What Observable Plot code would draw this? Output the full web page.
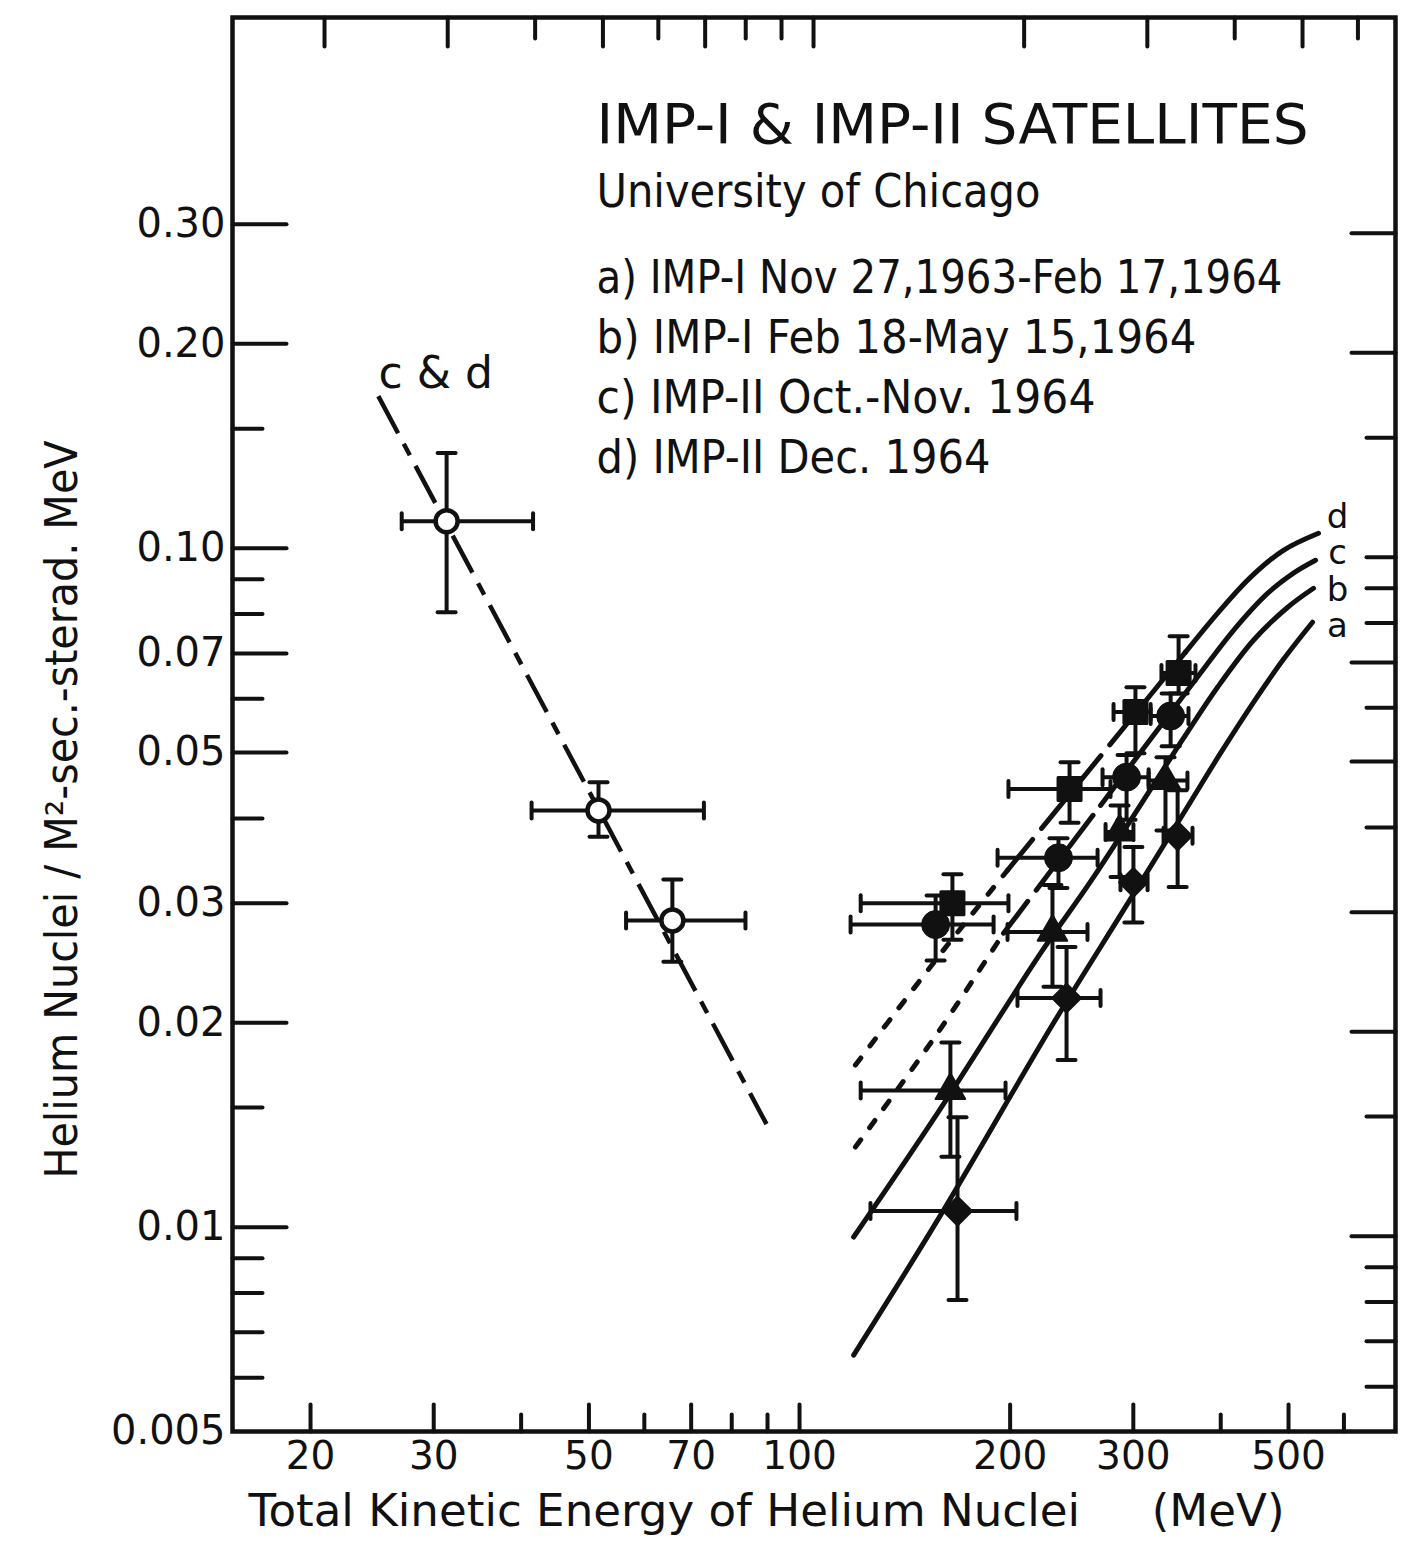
<!DOCTYPE html>
<html><head><meta charset="utf-8">
<script src="https://cdn.jsdelivr.net/npm/d3@7"></script>
<script src="https://cdn.jsdelivr.net/npm/@observablehq/plot@0.6"></script>
<style>
html,body{margin:0;padding:0;background:#fff;}
#chart svg{display:block;}
</style></head><body><div id="chart"></div>
<script>
// ---------- data ----------
const xDomain = [15.47, 711];
const yDomain = [0.005, 0.605];
const xMajorTicks = [20, 30, 50, 70, 100, 200, 300, 500];
const xMinorTicks = [40, 60, 80, 90, 400, 600];
const xTickLabels = ["20", "30", "50", "70", "100", "200", "300", "500"];
const yLabelTicks = [0.005, 0.01, 0.02, 0.03, 0.05, 0.07, 0.1, 0.2, 0.3];
const yTickLabels = ["0.005", "0.01", "0.02", "0.03", "0.05", "0.07", "0.10", "0.20", "0.30"];
const yLongTicksLeft = [0.01, 0.02, 0.03, 0.05, 0.07, 0.1, 0.2, 0.3];
const yShortTicksLeft = [0.006, 0.007, 0.008, 0.009, 0.015, 0.04, 0.06, 0.08, 0.09, 0.15];
const yLongTicksRight = [0.01, 0.02, 0.03, 0.05, 0.07, 0.2, 0.3];
const yShortTicksRight = [0.006, 0.007, 0.008, 0.009, 0.015, 0.04, 0.06, 0.08, 0.09, 0.1, 0.15];

const titleText = "IMP-I & IMP-II SATELLITES";
const subtitleText = "University of Chicago";
const legendLines = [
  "a) IMP-I Nov 27,1963-Feb 17,1964",
  "b) IMP-I Feb 18-May 15,1964",
  "c) IMP-II Oct.-Nov. 1964",
  "d) IMP-II Dec. 1964"
];
const xTitle = "Total Kinetic Energy of Helium Nuclei\u00a0\u00a0\u00a0\u00a0\u00a0(MeV)";
const yTitle = "Helium Nuclei / M\u00b2-sec.-sterad. MeV";
const curveLabels = ["d", "c", "b", "a"];
const lowLabel = "c & d";

// low-energy points (c & d), open circles
const lowCD = [
  {e: 31.3, f: 0.1096, eLo: 27.0, eHi: 41.6, fLo: 0.0805, fHi: 0.1381},
  {e: 51.6, f: 0.0411, eLo: 41.4, eHi: 73.0, fLo: 0.0376, fHi: 0.0452},
  {e: 65.8, f: 0.0283, eLo: 56.5, eHi: 83.7, fLo: 0.0246, fHi: 0.0325}
];
const lowCDFit = [{e: 25.0, f: 0.1675}, {e: 89.7, f: 0.01418}];

// high-energy points
const pointsD = [ // squares
  {e: 165.4, f: 0.0300, eLo: 122.3, eHi: 198.9, fLo: 0.0265, fHi: 0.0331},
  {e: 243.2, f: 0.0442, eLo: 198.9, eHi: 278.3, fLo: 0.0394, fHi: 0.0484},
  {e: 302.1, f: 0.0574, eLo: 281.1, eHi: 317.6, fLo: 0.0499, fHi: 0.0624},
  {e: 348.2, f: 0.0655, eLo: 329.1, eHi: 368.1, fLo: 0.0611, fHi: 0.0742}
];
const pointsC = [ // filled circles
  {e: 156.5, f: 0.0279, eLo: 118.3, eHi: 189.4, fLo: 0.0247, fHi: 0.0308},
  {e: 234.5, f: 0.0350, eLo: 191.9, eHi: 266.7, fLo: 0.0316, fHi: 0.0374},
  {e: 293.4, f: 0.0460, eLo: 271.1, eHi: 315.5, fLo: 0.0398, fHi: 0.0496},
  {e: 339.2, f: 0.0566, eLo: 317.6, eHi: 359.7, fLo: 0.0511, fHi: 0.0611}
];
const pointsB = [ // triangles
  {e: 164.3, f: 0.0159, eLo: 122.3, eHi: 197.0, fLo: 0.0127, fHi: 0.0187},
  {e: 229.9, f: 0.0272, eLo: 198.3, eHi: 258.0, fLo: 0.0226, fHi: 0.0319},
  {e: 286.7, f: 0.0382, eLo: 273.8, eHi: 300.1, fLo: 0.0328, fHi: 0.0418},
  {e: 333.5, f: 0.0455, eLo: 315.5, eHi: 358.5, fLo: 0.0384, fHi: 0.0492}
];
const pointsA = [ // diamonds
  {e: 168.2, f: 0.01056, eLo: 126.3, eHi: 204.2, fLo: 0.00781, fHi: 0.01452},
  {e: 240.8, f: 0.02175, eLo: 204.9, eHi: 269.3, fLo: 0.01762, fHi: 0.02585},
  {e: 300.1, f: 0.0322, eLo: 287.6, eHi: 314.4, fLo: 0.0281, fHi: 0.0363},
  {e: 347.1, f: 0.0377, eLo: 331.4, eHi: 364.5, fLo: 0.0317, fHi: 0.0440}
];

// fitted spectra curves
const curveA = [
  {e: 119.5, f: 0.00648}, {e: 157.5, f: 0.01024}, {e: 230.7, f: 0.01998}, {e: 290.5, f: 0.0293},
  {e: 353.9, f: 0.0407}, {e: 399.7, f: 0.0499}, {e: 445.5, f: 0.0593}, {e: 491.7, f: 0.0686}, {e: 541.1, f: 0.0778}
];
const curveB = [
  {e: 119.5, f: 0.00967}, {e: 157.5, f: 0.01472}, {e: 221.1, f: 0.02532}, {e: 263.2, f: 0.03277},
  {e: 353.9, f: 0.0525}, {e: 395.8, f: 0.0624}, {e: 445.5, f: 0.0732}, {e: 498.2, f: 0.0818}, {e: 542.9, f: 0.0873}
];
const curveC = [
  {e: 120.2, f: 0.01312}, {e: 157.5, f: 0.01931}, {e: 195.7, f: 0.0271}, {e: 269.3, f: 0.0418},
  {e: 370.6, f: 0.0646}, {e: 417.2, f: 0.0757}, {e: 466.6, f: 0.0858}, {e: 508.2, f: 0.0919}, {e: 546.4, f: 0.0960}
];
const curveD = [
  {e: 120.2, f: 0.01733}, {e: 160.6, f: 0.02559}, {e: 198.3, f: 0.03355}, {e: 269.3, f: 0.0494},
  {e: 356.2, f: 0.0703}, {e: 395.8, f: 0.0802}, {e: 441.1, f: 0.0906}, {e: 491.7, f: 0.0993}, {e: 551.9, f: 0.1052}
];
// energies where the drawn style changes (short dash -> long dash -> solid)
const curveCBreaks = [195.7, 269.3];
const curveDBreaks = [198.3, 356.2];

// ---------- helpers ----------
const seg = (arr, lo, hi) => arr.filter(d => d.e >= lo && d.e <= hi);
const sym = fn => ({draw(ctx, size) { fn(ctx, Math.sqrt(size / Math.PI)); }});
const hLine = sym((c, r) => { c.moveTo(-r, 0); c.lineTo(r, 0); });
const vLine = sym((c, r) => { c.moveTo(0, -r); c.lineTo(0, r); });
const tickInRight = sym((c, r) => { c.moveTo(0, 0); c.lineTo(r, 0); });
const tickInLeft = sym((c, r) => { c.moveTo(0, 0); c.lineTo(-r, 0); });
const tickInUp = sym((c, r) => { c.moveTo(0, 0); c.lineTo(0, -r); });
const tickInDown = sym((c, r) => { c.moveTo(0, 0); c.lineTo(0, r); });

const ink = "#111";
const allPoints = [...lowCD, ...pointsD, ...pointsC, ...pointsB, ...pointsA];
const lineStyle = {x: "e", y: "f", curve: "catmull-rom", stroke: ink, strokeWidth: 5, strokeLinecap: "round"};
const tickStyle = {fill: "none", stroke: ink, strokeWidth: 4, strokeLinecap: "round"};
const font = "DejaVu Sans";

const marks = [
  // ticks (the scanned frame is slightly skewed: top and right ticks sit a little off)
  Plot.dot(yLongTicksLeft, {y: d => d, frameAnchor: "left", symbol: tickInRight, r: 54, ...tickStyle}),
  Plot.dot(yShortTicksLeft, {y: d => d, frameAnchor: "left", symbol: tickInRight, r: 30, ...tickStyle}),
  Plot.dot(yLongTicksRight, {y: d => d, frameAnchor: "right", symbol: tickInLeft, r: 44, dy: 9, ...tickStyle}),
  Plot.dot(yShortTicksRight, {y: d => d, frameAnchor: "right", symbol: tickInLeft, r: 29, dy: 9, ...tickStyle}),
  Plot.dot(xMajorTicks, {x: d => d, frameAnchor: "bottom", symbol: tickInUp, r: 27, ...tickStyle}),
  Plot.dot(xMinorTicks, {x: d => d, frameAnchor: "bottom", symbol: tickInUp, r: 17, ...tickStyle}),
  Plot.dot(xMajorTicks, {x: d => d, frameAnchor: "top", symbol: tickInDown, r: 29, dx: 14, ...tickStyle}),
  Plot.dot(xMinorTicks, {x: d => d, frameAnchor: "top", symbol: tickInDown, r: 21, dx: 14, ...tickStyle}),
  Plot.frame({stroke: ink, strokeWidth: 4.5}),

  // tick labels
  Plot.text(yLabelTicks, {y: d => d, text: (d, i) => yTickLabels[i], frameAnchor: "left", textAnchor: "end",
    lineAnchor: "middle", dx: -7, fontSize: 40, fill: ink}),
  Plot.text(xMajorTicks, {x: d => d, text: (d, i) => xTickLabels[i], frameAnchor: "bottom", textAnchor: "middle",
    lineAnchor: "top", dy: 10, fontSize: 39, fill: ink}),

  // axis titles
  Plot.text([xTitle], {frameAnchor: "bottom-left", textAnchor: "start", lineAnchor: "top", dx: 16, dy: 63,
    fontSize: 44, fill: ink}),
  Plot.text([yTitle], {frameAnchor: "left", rotate: -90, textAnchor: "middle", lineAnchor: "middle", dx: -170, dy: 85,
    fontSize: 44, fill: ink}),

  // title block
  Plot.text([titleText], {frameAnchor: "top-left", textAnchor: "start", lineAnchor: "top", dx: 364, dy: 86, fontSize: 55, fill: ink}),
  Plot.text([subtitleText], {frameAnchor: "top-left", textAnchor: "start", lineAnchor: "top", dx: 364, dy: 157, fontSize: 46, fill: ink}),
  ...legendLines.map((t, i) => Plot.text([t], {frameAnchor: "top-left", textAnchor: "start", lineAnchor: "top",
    dx: 364, dy: 242 + i * 60, fontSize: 47, fill: ink})),

  // curve labels, stacked at the ends of the curves
  ...curveLabels.map((t, i) => Plot.text([t], {frameAnchor: "top-left", textAnchor: "middle", lineAnchor: "top",
    dx: 1105, dy: 486 + i * 36.5, fontSize: 34, fill: ink})),
  Plot.text([lowLabel], {frameAnchor: "top-left", textAnchor: "start", lineAnchor: "top", dx: 146, dy: 339, fontSize: 44, fill: ink}),

  // low-energy fit line
  Plot.line(lowCDFit, {...lineStyle, curve: "linear", strokeWidth: 4.5, strokeLinecap: "butt", strokeDasharray: "42,12,13,12"}),

  // high-energy curves
  Plot.line(curveA, lineStyle),
  Plot.line(curveB, lineStyle),
  Plot.line(seg(curveC, 0, curveCBreaks[0]), {...lineStyle, strokeDasharray: "9,15"}),
  Plot.line(seg(curveC, curveCBreaks[0], curveCBreaks[1]), {...lineStyle, strokeDasharray: "40,14"}),
  Plot.line(seg(curveC, curveCBreaks[1], 1e9), lineStyle),
  Plot.line(seg(curveD, 0, curveDBreaks[0]), {...lineStyle, strokeDasharray: "9,15"}),
  Plot.line(seg(curveD, curveDBreaks[0], curveDBreaks[1]), {...lineStyle, strokeDasharray: "40,14"}),
  Plot.line(seg(curveD, curveDBreaks[1], 1e9), lineStyle),

  // error bars
  Plot.ruleX(allPoints, {x: "e", y1: "fLo", y2: "fHi", stroke: ink, strokeWidth: 4}),
  Plot.ruleY(allPoints, {y: "f", x1: "eLo", x2: "eHi", stroke: ink, strokeWidth: 4}),
  Plot.dot(allPoints, {x: "e", y: "fHi", symbol: hLine, r: 9, ...tickStyle}),
  Plot.dot(allPoints, {x: "e", y: "fLo", symbol: hLine, r: 9, ...tickStyle}),
  Plot.dot(allPoints, {x: "eLo", y: "f", symbol: vLine, r: 8, ...tickStyle}),
  Plot.dot(allPoints, {x: "eHi", y: "f", symbol: vLine, r: 8, ...tickStyle}),

  // markers
  Plot.dot(lowCD, {x: "e", y: "f", r: 11, fill: "white", stroke: ink, strokeWidth: 4.5}),
  Plot.dot(pointsD, {x: "e", y: "f", symbol: "square", r: 13, fill: ink, stroke: ink, strokeWidth: 3, strokeLinejoin: "round"}),
  Plot.dot(pointsC, {x: "e", y: "f", symbol: "circle", r: 14, fill: ink, stroke: ink, strokeWidth: 1}),
  Plot.dot(pointsB, {x: "e", y: "f", symbol: "triangle", r: 11, fill: ink, stroke: ink, strokeWidth: 2, strokeLinejoin: "round"}),
  Plot.dot(pointsA, {x: "e", y: "f", symbol: "diamond2", r: 13, fill: ink, stroke: ink, strokeWidth: 2, strokeLinejoin: "round"})
];

const chart = Plot.plot({
  width: 1402,
  height: 1550,
  marginLeft: 232,
  marginRight: 7,
  marginTop: 17,
  marginBottom: 119,
  style: {fontFamily: font, background: "white", color: ink},
  x: {type: "log", domain: xDomain, axis: null},
  y: {type: "log", domain: yDomain, axis: null},
  marks
});

// fit long texts to the widths of the hand lettering
const fitWidths = new Map([
  [titleText, 712], [subtitleText, 444],
  [legendLines[0], 686], [legendLines[1], 600], [legendLines[2], 499], [legendLines[3], 394],
  [xTitle, 1036], [yTitle, 738]
]);
chart.querySelectorAll("text").forEach(t => {
  const w = fitWidths.get(t.textContent);
  if (w) { t.setAttribute("textLength", w); t.setAttribute("lengthAdjust", "spacingAndGlyphs"); }
});
document.getElementById("chart").appendChild(chart);
</script>
</body></html>
